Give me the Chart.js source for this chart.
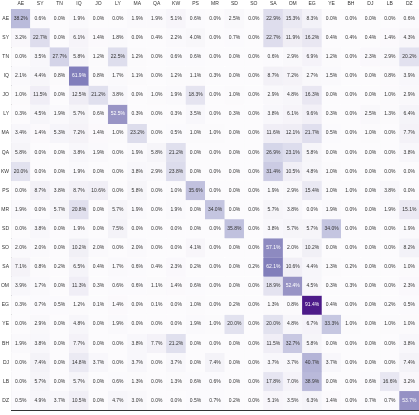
<!DOCTYPE html>
<html><head><meta charset="utf-8">
<script src="https://cdn.jsdelivr.net/npm/chart.js@4"></script>
<style>html,body{margin:0;padding:0;background:#fff}#wrap{width:419px;height:415px}</style>
</head><body><div id="wrap"><canvas id="c"></canvas></div>
<script>
const categories = ["AE","SY","TN","IQ","JO","LY","MA","QA","KW","PS","MR","SD","SO","SA","OM","EG","YE","BH","DJ","LB","DZ"];
const rowAE = [38.2,0.6,0.0,1.9,0.0,0.0,1.9,1.9,5.1,0.6,0.0,2.5,0.0,22.9,15.3,8.3,0.0,0.0,0.0,0.0,0.6];
const rowSY = [3.2,22.7,0.0,6.1,1.4,1.8,0.0,0.4,2.2,4.0,0.0,0.7,0.0,22.7,11.9,16.2,0.4,0.4,0.4,1.4,4.3];
const rowTN = [0.0,3.5,27.7,5.8,1.2,22.5,1.2,0.0,0.6,0.6,0.0,0.0,0.0,0.6,2.9,6.9,1.2,0.0,2.3,2.9,20.2];
const rowIQ = [2.1,4.4,0.8,61.9,0.8,1.7,1.1,0.0,1.2,1.1,0.3,0.0,0.0,8.7,7.2,2.7,1.5,0.0,0.0,0.8,3.9];
const rowJO = [1.0,11.5,0.0,12.5,21.2,3.8,0.0,1.0,1.9,18.3,0.0,1.0,0.0,2.9,4.8,16.3,0.0,0.0,0.0,1.0,2.9];
const rowLY = [0.3,4.5,1.9,5.7,0.6,52.5,0.3,0.0,0.3,3.5,0.0,0.3,0.0,3.8,6.1,9.6,0.3,0.0,2.5,1.3,6.4];
const rowMA = [3.4,1.4,5.3,7.2,1.4,1.0,23.2,0.0,0.5,1.0,1.0,0.0,0.0,11.6,12.1,21.7,0.5,0.0,1.0,0.0,7.7];
const rowQA = [5.8,0.0,0.0,3.8,1.9,0.0,1.9,5.8,21.2,0.0,0.0,0.0,0.0,26.9,23.1,5.8,0.0,0.0,0.0,0.0,3.8];
const rowKW = [20.0,0.0,0.0,1.9,0.0,0.0,3.8,2.9,23.8,0.0,0.0,0.0,0.0,31.4,10.5,4.8,1.0,0.0,0.0,0.0,0.0];
const rowPS = [0.0,8.7,3.8,8.7,10.6,0.0,5.8,0.0,1.0,35.6,0.0,0.0,0.0,1.9,2.9,15.4,1.0,1.0,0.0,3.8,0.0];
const rowMR = [1.9,0.0,5.7,20.8,0.0,5.7,1.9,0.0,1.9,0.0,34.0,0.0,0.0,5.7,3.8,0.0,1.9,0.0,0.0,1.9,15.1];
const rowSD = [0.0,3.8,0.0,1.9,0.0,7.5,0.0,0.0,0.0,0.0,0.0,35.8,0.0,3.8,5.7,5.7,34.0,0.0,0.0,0.0,1.9];
const rowSO = [2.0,2.0,0.0,10.2,2.0,0.0,2.0,0.0,0.0,4.1,0.0,0.0,0.0,57.1,2.0,10.2,0.0,0.0,0.0,0.0,8.2];
const rowSA = [7.1,0.8,0.2,6.5,0.4,1.7,0.6,0.4,2.3,0.2,0.0,0.0,0.2,62.1,10.6,4.4,1.3,0.2,0.0,0.0,1.0];
const rowOM = [3.9,1.7,0.0,11.3,0.3,0.6,0.6,1.1,1.4,0.6,0.0,0.0,0.0,18.9,52.4,4.5,0.3,0.3,0.0,0.0,2.3];
const rowEG = [0.3,0.7,0.5,1.2,0.1,1.4,0.0,0.1,0.0,1.0,0.0,0.2,0.0,1.3,0.8,91.4,0.4,0.0,0.0,0.2,0.5];
const rowYE = [0.0,2.9,0.0,4.8,0.0,1.9,0.0,0.0,0.0,1.9,1.0,20.0,0.0,20.0,4.8,6.7,33.3,1.0,0.0,1.0,1.0];
const rowBH = [1.9,3.8,0.0,7.7,0.0,0.0,3.8,7.7,21.2,0.0,0.0,0.0,0.0,11.5,32.7,5.8,0.0,0.0,0.0,0.0,3.8];
const rowDJ = [0.0,7.4,0.0,14.8,3.7,0.0,3.7,0.0,3.7,0.0,7.4,0.0,0.0,3.7,3.7,40.7,3.7,0.0,0.0,0.0,7.4];
const rowLB = [0.0,5.7,0.0,5.7,0.0,0.6,1.3,0.0,1.3,0.6,0.6,0.0,0.0,17.8,7.0,38.9,0.0,0.0,0.6,16.6,3.2];
const rowDZ = [0.5,4.9,3.7,10.5,0.0,4.7,3.0,0.0,0.0,0.5,0.7,0.2,0.0,5.1,3.5,6.3,1.4,0.0,0.7,0.7,53.7];
const rows = [rowAE,rowSY,rowTN,rowIQ,rowJO,rowLY,rowMA,rowQA,rowKW,rowPS,rowMR,rowSD,rowSO,rowSA,rowOM,rowEG,rowYE,rowBH,rowDJ,rowLB,rowDZ];

const stops = ["#fcfbfd","#efedf5","#dadaeb","#bcbddc","#9e9ac8","#807dba","#6a51a3","#54278f","#3f007d"];
const VMAX = 100;
function hex(h){return [1,3,5].map(i=>parseInt(h.substr(i,2),16));}
function purples(v){
  let t = Math.max(0, Math.min(1, v / VMAX)) * (stops.length - 1);
  let i = Math.min(Math.floor(t), stops.length - 2), f = t - i;
  const a = hex(stops[i]), b = hex(stops[i+1]);
  return a.map((x,k)=>Math.round(x + (b[k]-x)*f));
}
function rgb(c){return `rgb(${c[0]},${c[1]},${c[2]})`;}
function lum(c){const l=c.map(x=>{x/=255;return x<=0.03928?x/12.92:Math.pow((x+0.055)/1.055,2.4);});return 0.2126*l[0]+0.7152*l[1]+0.0722*l[2];}

const datasets = rows.map((r, ri) => ({
  label: categories[ri],
  data: r.map(() => 1),
  backgroundColor: r.map(v => rgb(purples(v))),
  borderColor: r.map(v => rgb(purples(v))),
  borderWidth: 0.4,
  barPercentage: 1.0,
  categoryPercentage: 1.0
}));

const FONT = "'Liberation Sans', Arial, sans-serif";
const annot = {
  id: 'annot',
  afterDatasetsDraw(chart) {
    const ctx = chart.ctx;
    ctx.save();
    ctx.font = `5px ${FONT}`;
    ctx.textAlign = 'center';
    ctx.textBaseline = 'middle';
    chart.data.datasets.forEach((ds, ri) => {
      const meta = chart.getDatasetMeta(ri);
      meta.data.forEach((el, ci) => {
        const v = rows[ri][ci];
        const c = purples(v);
        ctx.fillStyle = lum(c) < 0.408 ? '#ffffff' : '#333333';
        ctx.fillText(v.toFixed(1) + '%', el.x, (el.y + el.base) / 2);
      });
    });
    ctx.restore();
  }
};

new Chart(document.getElementById('c'), {
  type: 'bar',
  data: { labels: categories, datasets },
  plugins: [annot],
  options: {
    responsive: true,
    maintainAspectRatio: false,
    animation: false,
    layout: { padding: 0 },
    plugins: { legend: { display: false }, tooltip: { enabled: false } },
    scales: {
      x: {
        stacked: true,
        position: 'top',
        grid: { display: false, drawTicks: false, tickLength: 0 },
        border: { display: false },
        ticks: { font: { size: 5, family: FONT }, color: '#333', padding: 2, maxRotation: 0, autoSkip: false },
        afterFit: s => { s.height = 9; }
      },
      x2: {
        type: 'category',
        position: 'bottom',
        grid: { display: false, drawTicks: false, tickLength: 0 },
        border: { display: true, color: '#333', width: 1 },
        ticks: { display: false },
        afterFit: s => { s.height = 4; }
      },
      y: {
        stacked: true,
        min: 0, max: 21,
        reverse: true,
        grid: { display: false, drawTicks: false, tickLength: 0 },
        border: { display: true, color: '#333', width: 1 },
        afterBuildTicks: s => { s.ticks = categories.map((c, i) => ({ value: i + 0.5 })); },
        ticks: {
          autoSkip: false,
          font: { size: 5, family: FONT }, color: '#333', padding: 2,
          callback: v => categories[Math.floor(v)]
        },
        afterFit: s => { s.width = 11; }
      }
    }
  }
});
</script>
</body></html>
